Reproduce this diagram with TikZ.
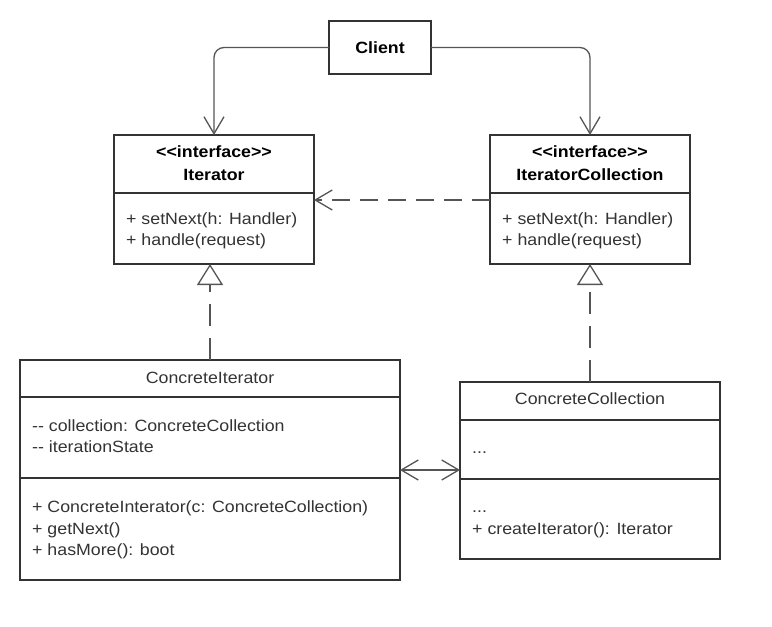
\documentclass[tikz,border=0pt]{standalone}
\usepackage{fontspec}
\setmainfont{Liberation Sans}[FakeStretch=1.09,Ligatures=TeXOff]
\usetikzlibrary{arrows.meta}
\definecolor{ink}{HTML}{333333}
\definecolor{wire}{HTML}{555555}
\begin{document}
\begin{tikzpicture}[x=1pt,y=-1pt,
  box/.style={draw=ink,line width=2.5pt,rectangle,inner sep=0pt,outer sep=0pt,anchor=north west,fill=white},
  divline/.style={draw=ink,line width=2.5pt},
  txt/.style={anchor=base west,inner sep=0pt,text=ink,font=\fontsize{16.3}{21}\selectfont},
  ttl/.style={anchor=base,inner sep=0pt,text=ink,font=\fontsize{16.3}{21}\selectfont},
  bttl/.style={anchor=base,inner sep=0pt,text=black,font=\fontsize{16.3}{21}\selectfont\bfseries},
  conn/.style={draw=wire,line width=1.3pt,rounded corners=10pt,-{Straight Barb[length=17pt,width=20pt,line width=1.3pt]}},
  dep/.style={draw=wire,line width=1.3pt,dash pattern=on 18pt off 10pt,-{Straight Barb[length=17pt,width=20pt,line width=1.3pt]}},
  real/.style={draw=wire,line width=1.3pt,dash pattern=on 22pt off 12pt,-{Triangle[open,length=21pt,width=26pt,line width=1.3pt,fill=white]}},
  assoc/.style={draw=wire,line width=1.3pt,{Straight Barb[length=17pt,width=20pt,line width=1.3pt]}-{Straight Barb[length=17pt,width=20pt,line width=1.3pt]}}
]
\useasboundingbox[fill=white] (0,0) rectangle (772,627);

% boxes
\node[box,minimum width=102pt,minimum height=53pt] (client) at (329,21) {};
\node[box,minimum width=200pt,minimum height=129pt] (iter) at (114,135) {};
\node[box,minimum width=200pt,minimum height=129pt] (ic) at (490,135) {};
\node[box,minimum width=380pt,minimum height=220pt] (ci) at (20,360) {};
\node[box,minimum width=260pt,minimum height=177pt] (cc) at (460,382) {};

% dividers
\draw[divline] (iter.west |- 0,193) -- (iter.east |- 0,193);
\draw[divline] (ic.west |- 0,193) -- (ic.east |- 0,193);
\draw[divline] (ci.west |- 0,397) -- (ci.east |- 0,397);
\draw[divline] (ci.west |- 0,478) -- (ci.east |- 0,478);
\draw[divline] (cc.west |- 0,420) -- (cc.east |- 0,420);
\draw[divline] (cc.west |- 0,479) -- (cc.east |- 0,479);

% texts
\node[bttl,anchor=center] (tclient) at (client.center) {Client};
\node[bttl] (ti1) at (214,157) {<{}<interface>{}>};
\node[bttl] (ti2) at (214,180) {Iterator};
\node[txt] (ti3) at (126,224) {+ setNext(h: Handler)};
\node[txt] (ti4) at (126,245) {+ handle(request)};
\node[bttl] (tc1) at (590,157) {<{}<interface>{}>};
\node[bttl] (tc2) at (590,180) {IteratorCollection};
\node[txt] (tc3) at (502,224) {+ setNext(h: Handler)};
\node[txt] (tc4) at (502,245) {+ handle(request)};
\node[ttl] (tci1) at (210,383) {ConcreteIterator};
\node[txt] (tci2) at (32,431) {-{}- collection: ConcreteCollection};
\node[txt] (tci3) at (32,452) {-{}- iterationState};
\node[txt] (tci4) at (32,512) {+ ConcreteInterator(c: ConcreteCollection)};
\node[txt] (tci5) at (32,534) {+ getNext()};
\node[txt] (tci6) at (32,555) {+ hasMore(): boot};
\node[ttl] (tcc1) at (590,404) {ConcreteCollection};
\node[txt] (tcc2) at (472,453) {...};
\node[txt] (tcc3) at (472,512) {...};
\node[txt] (tcc4) at (472,534) {+ createIterator(): Iterator};

% connectors
\coordinate (ly) at (0,200);
\coordinate (ay) at (0,470);
\draw[conn] (client.west) -| (iter.north);
\draw[conn] (client.east) -| (ic.north);
\draw[dep] (ic.west |- ly) -- (iter.east |- ly);
\draw[real] (ci.north) -- (ci.north |- iter.south);
\draw[real] (cc.north) -- (cc.north |- ic.south);
\draw[assoc] (ci.east |- ay) -- (cc.west |- ay);
\end{tikzpicture}
\end{document}
